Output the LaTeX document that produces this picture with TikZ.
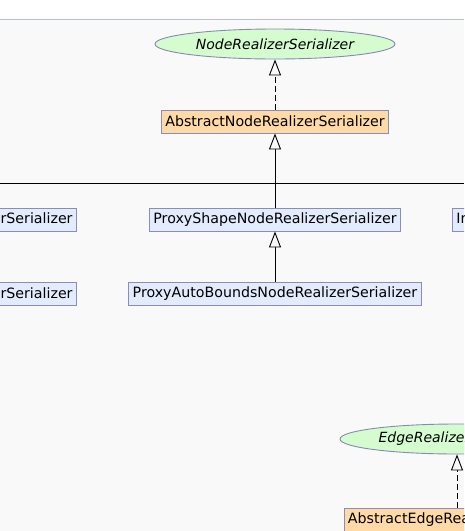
\documentclass[tikz,border=0pt]{standalone}
\usepackage{fontspec}
\setmainfont{DejaVu Sans}
\usetikzlibrary{arrows.meta, shapes.geometric}

\definecolor{canvas}{HTML}{F9F9F9}
\definecolor{rimline}{HTML}{B4BCF0}
\definecolor{ifacefill}{HTML}{D4FCCF}
\definecolor{absfill}{HTML}{FFDAA6}
\definecolor{clsfill}{HTML}{E3ECFC}
\definecolor{frame}{HTML}{8A8CC0}

\begin{document}
\begin{tikzpicture}[x=1pt, y=-1pt, line width=0.9pt,
  iface/.style={ellipse, draw=frame!80!gray, fill=ifacefill, minimum width=#1, minimum height=30,
    inner sep=0pt, font=\fontsize{14}{16}\selectfont\itshape},
  iface/.default=240,
  absbox/.style={draw=frame, fill=absfill, minimum height=23, inner xsep=4pt, inner ysep=0pt,
    font=\fontsize{14.2}{16}\selectfont},
  clsbox/.style={draw=frame, fill=clsfill, minimum height=23, inner xsep=4pt, inner ysep=0pt,
    font=\fontsize{14.2}{16}\selectfont},
  realize/.style={-{Triangle[open, fill=canvas, width=12pt, length=16pt, line width=0.9pt]}},
  implement/.style={realize, dash pattern=on 6pt off 3pt}]
  \useasboundingbox (0,0) rectangle (464,531);
  \clip (0,0) rectangle (464,531);
  % page background
  \fill[white] (0,0) rectangle (464,19);
  \fill[canvas] (0,19) rectangle (464,531);
  \draw[rimline, line width=1pt] (0,19.5) -- (464,19.5);

  % node realizers
  \node[iface] (nrs) at (275,44) {NodeRealizerSerializer};
  \node[absbox] (anrs) at (275,121.5) {AbstractNodeRealizerSerializer};
  \node[clsbox] (psnrs) at (275,219.5) {ProxyShapeNodeRealizerSerializer};
  \node[clsbox] (pabnrs) at (275,293.5) {ProxyAutoBoundsNodeRealizerSerializer};
  \node[clsbox, anchor=east] (snrs) at (77,219.5) {ShapeNodeRealizerSerializer};
  \node[clsbox, anchor=east] (gnrs) at (77,293.5) {GenericNodeRealizerSerializer};
  \node[clsbox, anchor=west] (inrs) at (452,219.5) {ImageNodeRealizerSerializer};

  % edge realizers
  \node[iface=234] (ers) at (457,439) {EdgeRealizerSerializer};
  \node[absbox] (aers) at (457,519.5) {AbstractEdgeRealizerSerializer};

  % bus
  \coordinate (busw) at (0,183);
  \coordinate (buse) at (464,183);
  \draw (busw) -- (buse);

  \draw[implement] (anrs) -- (nrs);
  \draw[realize] (psnrs) -- (anrs);
  \draw[realize] (pabnrs) -- (psnrs);
  \draw[implement] (aers) -- (ers);
\end{tikzpicture}
\end{document}
